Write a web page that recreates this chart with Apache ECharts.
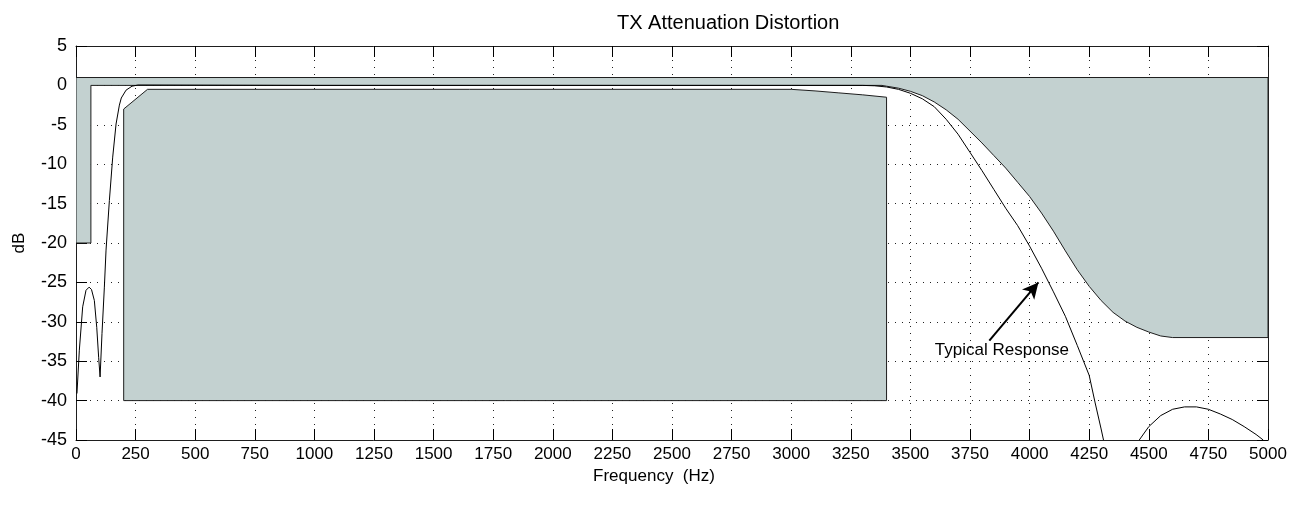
<!DOCTYPE html>
<html>
<head>
<meta charset="utf-8">
<script src="https://cdn.jsdelivr.net/npm/echarts@6/dist/echarts.min.js"></script>
<style>
html,body{margin:0;padding:0;background:#fff;}
#chart{width:1299px;height:506px;}
</style>
</head>
<body>
<div id="chart"></div>
<script>
// ---- data ----
const TITLE = 'TX Attenuation Distortion';
const X_NAME = 'Frequency  (Hz)';
const Y_NAME = 'dB';
const X_RANGE = [0, 5000, 250];
const Y_RANGE = [-45, 5, 5];

// upper limit mask polygon [Hz, dB]
const upperMask = [
  [0, 1], [0, -20], [62.5, -20], [62.5, 0], [3380, 0], [3400, -0.1], [3450, -0.35],
  [3500, -0.75], [3550, -1.3], [3600, -2.1], [3650, -3.1], [3700, -4.3], [3750, -5.8],
  [3800, -7.3], [3850, -8.9], [3900, -10.5], [3950, -12.3], [4000, -14.1], [4050, -16.2],
  [4100, -18.5], [4150, -21.0], [4200, -23.4], [4250, -25.5], [4300, -27.3], [4350, -28.8],
  [4400, -29.9], [4450, -30.7], [4500, -31.3], [4550, -31.8], [4600, -32], [5000, -32], [5000, 1]
];

// lower limit mask polygon [Hz, dB]
const lowerMask = [
  [200, -40], [200, -3], [300, -0.5], [3000, -0.5], [3100, -0.7], [3200, -0.95],
  [3300, -1.2], [3400, -1.5], [3400, -40]
];

// typical response [Hz, dB]
const responseMain = [
  [4, -39.1], [14, -33.6], [28, -28.1], [42, -26.0], [55, -25.6], [65, -25.9], [77, -27.3],
  [87, -30.7], [95, -34.5], [101, -37.0], [109, -31.5], [119, -25.6], [126, -20.9],
  [140, -14.6], [154, -9.1], [168, -4.9], [182, -2.5], [190, -1.6], [210, -0.6], [235, -0.1],
  [260, 0.05], [1000, 0], [2000, 0], [3000, 0], [3300, 0], [3350, -0.05], [3400, -0.2],
  [3450, -0.5], [3500, -1.0], [3550, -1.7], [3600, -2.7], [3650, -4.3], [3700, -6.2],
  [3750, -8.5], [3800, -10.8], [3850, -13.2], [3900, -15.6], [3950, -17.8], [4000, -20.4],
  [4050, -23.2], [4100, -26.2], [4150, -29.3], [4200, -33.0], [4250, -36.8], [4275, -40.3],
  [4300, -43.6], [4310, -45]
];
const responseLobe = [
  [4460, -45], [4500, -43.3], [4550, -41.9], [4600, -41.1], [4650, -40.8], [4700, -40.8],
  [4750, -41.1], [4800, -41.7], [4850, -42.4], [4900, -43.3], [4950, -44.3], [4980, -45]
];

// annotation
const ANNOT_TEXT = 'Typical Response';
const ANNOT_TEXT_POS = [3884, -33.6];
const ARROW_FROM = [3831, -32.4];
const ARROW_TO = [4037, -25.0];

// ---- styles ----
const GRAY = '#c3d1d0';
const EDGE = '#1e1e1e';
const FONT = 'Liberation Sans, Arial, sans-serif';

function polygonRenderer(pts) {
  return function (params, api) {
    return {
      type: 'polygon',
      shape: { points: pts.map(p => api.coord(p)) },
      style: { fill: GRAY, stroke: EDGE, lineWidth: 1 }
    };
  };
}

const chart = echarts.init(document.getElementById('chart'), null, { renderer: 'canvas' });

function axisBase(extra) {
  return Object.assign({
    type: 'value',
    axisLine: { show: true, onZero: false, lineStyle: { color: EDGE, width: 1 } },
    axisTick: { show: true, inside: true, length: 11, lineStyle: { color: '#000', width: 1 } },
    splitLine: { show: false },
    axisLabel: { show: false }
  }, extra);
}

chart.setOption({
  animation: false,
  backgroundColor: '#fff',
  title: {
    text: TITLE,
    left: 612, top: 8,
    textStyle: { fontFamily: FONT, fontSize: 20, fontWeight: 'normal', color: '#000' }
  },
  grid: { left: 76, right: 31, top: 46, bottom: 66, containLabel: false },
  xAxis: [
    axisBase({
      min: X_RANGE[0], max: X_RANGE[1], interval: X_RANGE[2], position: 'bottom',
      name: X_NAME, nameLocation: 'middle', nameGap: 26,
      nameTextStyle: { fontFamily: FONT, fontSize: 17, color: '#000', padding: [0, 36, 0, 0] },
      axisLabel: { show: true, margin: 6, fontFamily: FONT, fontSize: 17, color: '#000',
        formatter: v => String(v) },
      splitLine: { show: true, lineStyle: { color: '#222', width: 1, type: [1, 6] } }
    }),
    axisBase({
      min: X_RANGE[0], max: X_RANGE[1], interval: X_RANGE[2], position: 'top'
    })
  ],
  yAxis: [
    axisBase({
      min: Y_RANGE[0], max: Y_RANGE[1], interval: Y_RANGE[2], position: 'left',
      name: Y_NAME, nameLocation: 'middle', nameGap: 48, nameRotate: 90,
      nameTextStyle: { fontFamily: FONT, fontSize: 17, color: '#000' },
      axisLabel: { show: true, margin: 9, fontFamily: FONT, fontSize: 18, color: '#000',
        formatter: v => String(v) },
      splitLine: { show: true, lineStyle: { color: '#222', width: 1, type: [1, 6] } }
    }),
    axisBase({
      min: Y_RANGE[0], max: Y_RANGE[1], interval: Y_RANGE[2], position: 'right'
    })
  ],
  series: [
    {
      type: 'custom', name: 'upper mask', clip: true,
      renderItem: polygonRenderer(upperMask), data: [[0, 0]], silent: true, z: 1
    },
    {
      type: 'custom', name: 'lower mask', clip: true,
      renderItem: polygonRenderer(lowerMask), data: [[0, 0]], silent: true, z: 1
    },
    {
      type: 'line', name: 'response', data: responseMain, showSymbol: false, clip: true,
      lineStyle: { color: '#000', width: 1 }, z: 3,
      markLine: {
        silent: true, symbol: ['none', 'arrow'], symbolSize: [12, 16], precision: 4,
        label: { show: false },
        lineStyle: { color: '#000', width: 2, type: 'solid' },
        data: [[{ coord: ARROW_FROM }, { coord: ARROW_TO }]]
      },
      markPoint: {
        silent: true, symbol: 'circle', symbolSize: 0,
        label: { show: true, position: 'inside', formatter: ANNOT_TEXT, fontFamily: FONT, fontSize: 17, color: '#000' },
        data: [{ coord: ANNOT_TEXT_POS }]
      }
    },
    {
      type: 'line', name: 'response lobe', data: responseLobe, showSymbol: false, clip: true,
      lineStyle: { color: '#000', width: 1 }, z: 3
    }
  ]
});
</script>
</body>
</html>
